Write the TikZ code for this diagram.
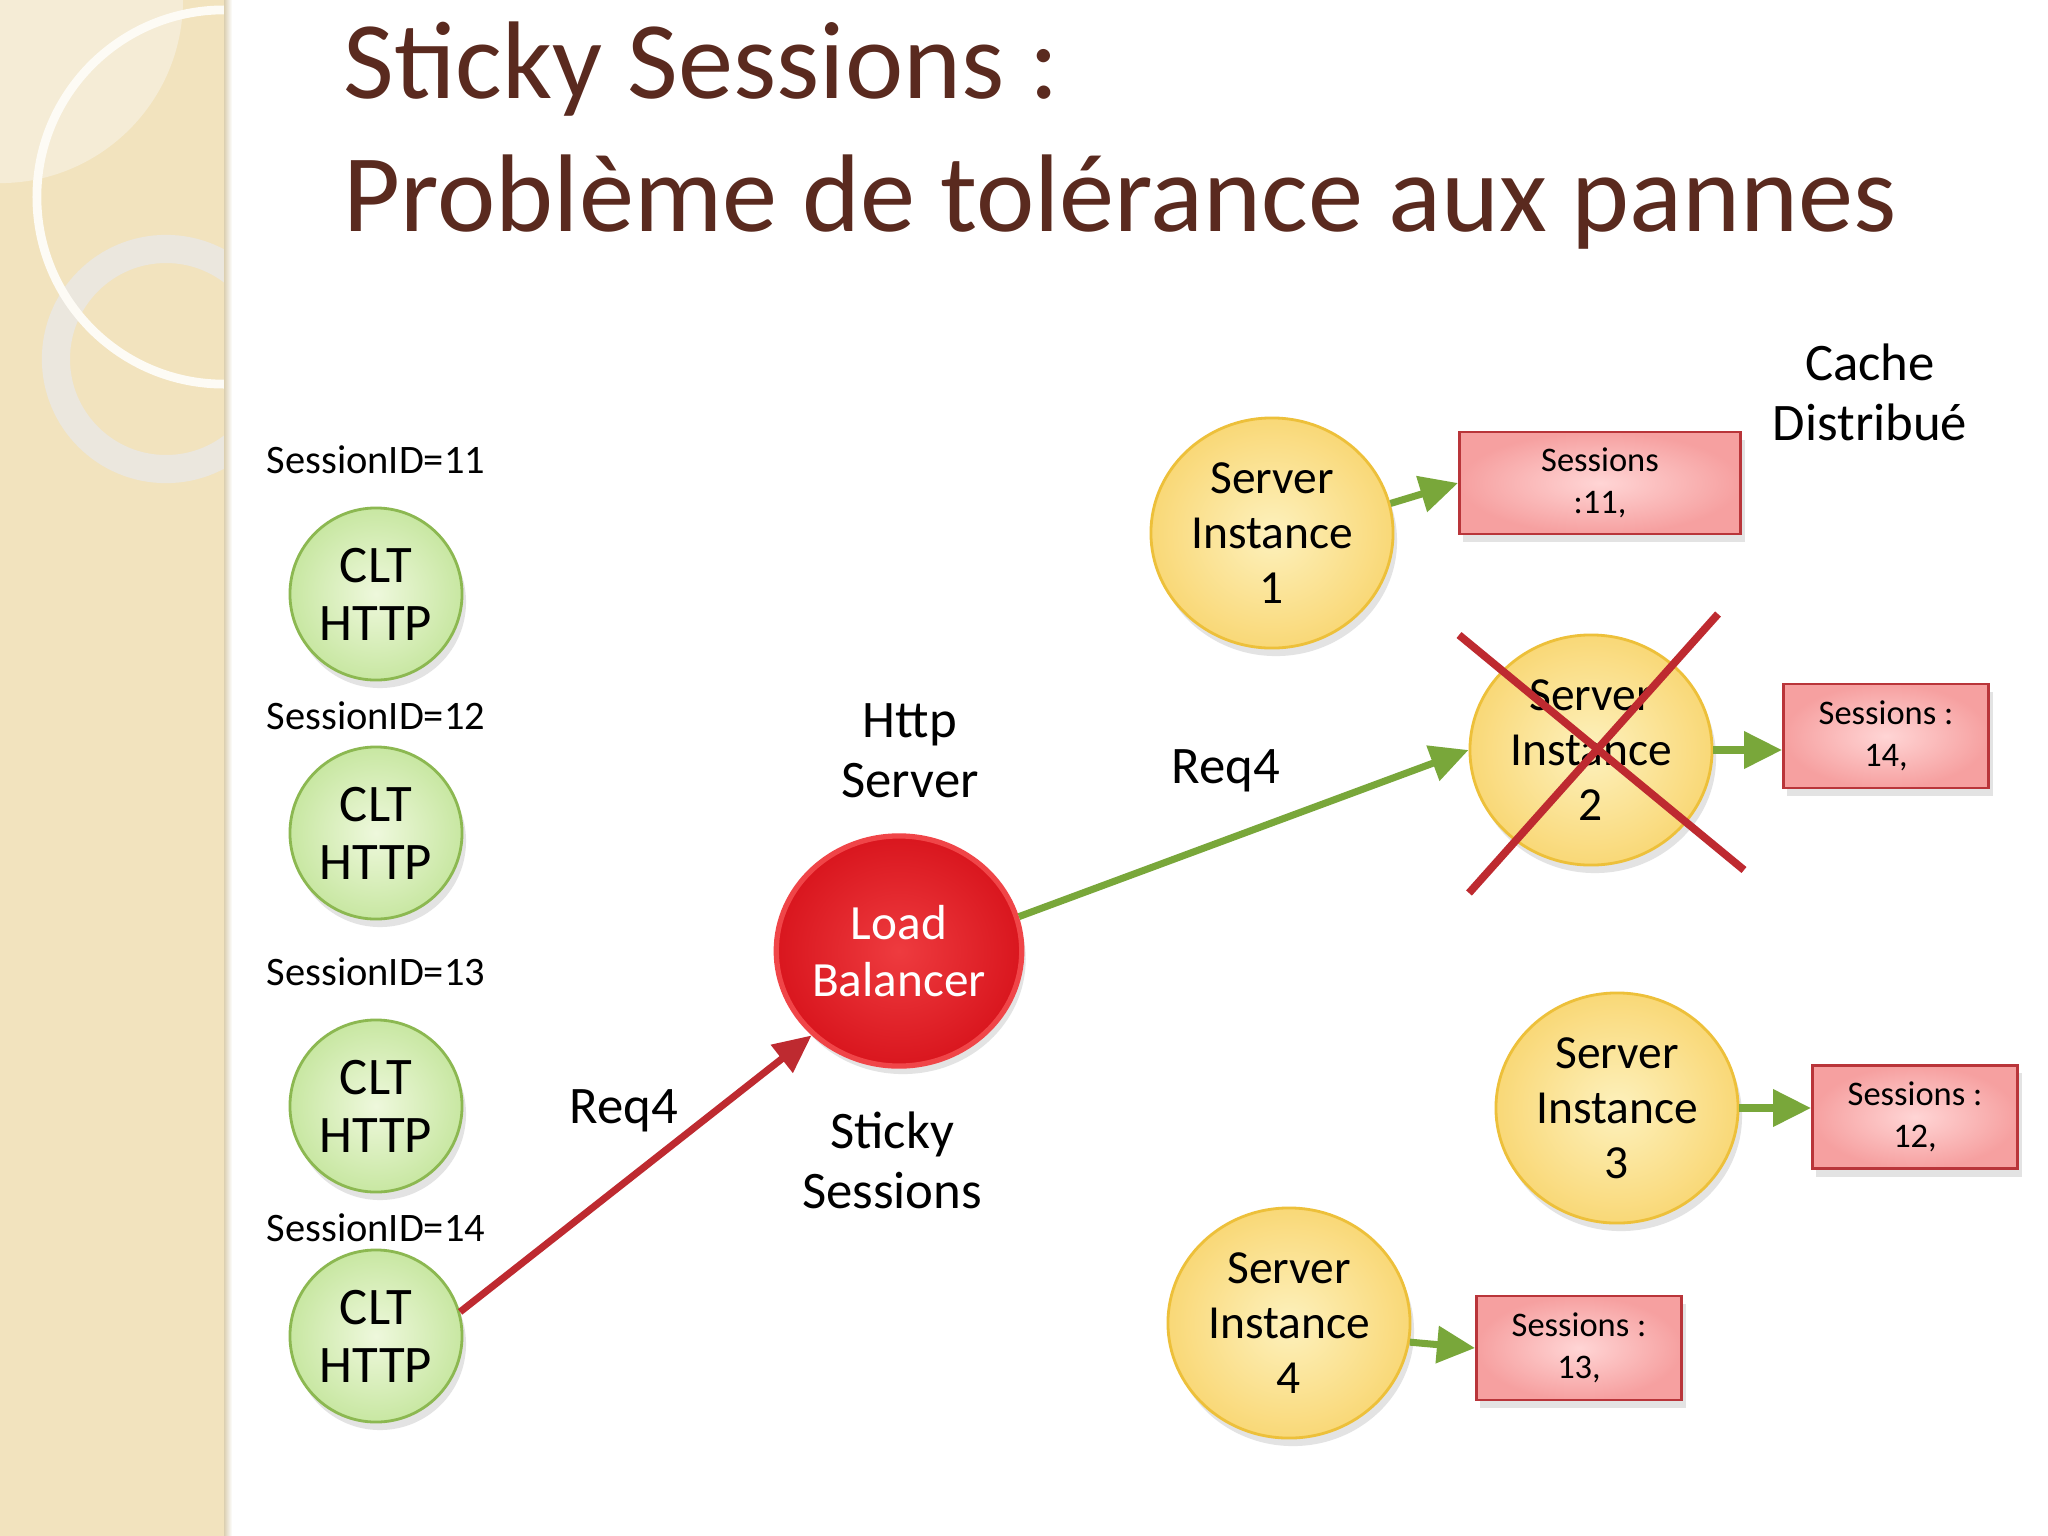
\documentclass[tikz,border=0pt]{standalone}
\usepackage{fontspec}
\setmainfont{Carlito}
\usetikzlibrary{arrows.meta,shapes.geometric,shadows}
\definecolor{stripc}{HTML}{F2E3BE}
\definecolor{stripl}{HTML}{F5ECD6}
\definecolor{ringc}{HTML}{EBE7DE}
\definecolor{titlec}{HTML}{5A2A1F}
\definecolor{arrred}{HTML}{BE2A30}
\definecolor{arrgreen}{HTML}{79A73A}
\definecolor{yin}{HTML}{FDF1BD}
\definecolor{yout}{HTML}{F9D877}
\definecolor{yborder}{HTML}{EDC03A}
\definecolor{gin}{HTML}{EEF8DC}
\definecolor{gout}{HTML}{C8E7A2}
\definecolor{gborder}{HTML}{8CB851}
\definecolor{rin}{HTML}{EE3B3F}
\definecolor{rout}{HTML}{D9161E}
\definecolor{rborder}{HTML}{F04548}
\definecolor{pin}{HTML}{FFD5D5}
\definecolor{pout}{HTML}{F6A0A0}
\definecolor{pborder}{HTML}{B9353A}
\tikzset{
  shd/.style={drop shadow={shadow xshift=0.4mm,shadow yshift=-0.8mm,opacity=0.22}},
  cltnode/.style={circle,minimum size=1.72cm,inner sep=0pt,shading=radial,inner color=gin,outer color=gout,draw=gborder,line width=0.8pt,shd,align=center,font=\fontsize{15}{16.5}\selectfont},
  srvnode/.style={ellipse,minimum width=2.42cm,minimum height=2.30cm,inner sep=0pt,shading=radial,inner color=yin,outer color=yout,draw=yborder,line width=0.8pt,shd,align=center,font=\fontsize{13.5}{15.6}\selectfont},
  lbnode/.style={ellipse,minimum width=2.40cm,minimum height=2.30cm,inner sep=0pt,shading=radial,inner color=rin,outer color=rout,draw=rborder,line width=1.5pt,shd,align=center,text=white,font=\fontsize{14}{16}\selectfont},
  sessbox/.style={rectangle,inner sep=0pt,shading=radial,inner color=pin,outer color=pout,draw=pborder,line width=0.8pt,shd,align=center,font=\fontsize{9.8}{12}\selectfont},
  lbl/.style={align=center,inner sep=0pt,font=\fontsize{11.5}{13}\selectfont},
  biglbl/.style={align=center,inner sep=0pt,font=\fontsize{15}{17}\selectfont},
  greenarr/.style={draw=arrgreen,line width=2pt,-{Triangle[length=3.8mm,width=3.6mm]}},
  redarr/.style={draw=arrred,line width=2pt,-{Triangle[length=3.8mm,width=3.4mm]}},
  crossline/.style={draw=arrred,line width=2.2pt},
  titletxt/.style={anchor=base west,inner sep=0pt,text=titlec,font=\fontsize{31.4}{36}\selectfont}
}
\begin{document}
\begin{tikzpicture}[x=0.01cm,y=-0.01cm]
\useasboundingbox (0,0) rectangle (2048,1536);
\fill[white] (0,0) rectangle (2048,1536);
% decorative strip
\begin{scope}
\clip (0,0) rectangle (226,1536);
\fill[stripc] (0,0) rectangle (226,1536);
\fill[stripl] (0,0) -- (183,0) arc[start angle=0,end angle=-90,radius=1.83cm] -- cycle;
\draw[line width=8pt,ringc] (166,359) circle[radius=1.10cm];
\draw[line width=2.5pt,white!85!stripc] (224,197) circle[radius=1.87cm];
\end{scope}
\shade[left color=stripc!80!gray,right color=white] (224,0) rectangle (232,1536);
% title
\node[titletxt] (t1) at (343,98) {Sticky Sessions :};
\node[titletxt] (t2) at (343,231) {Problème de tolérance aux pannes};
% clients
\node[lbl] (s11) at (376,460) {SessionID=11};
\node[lbl] (s12) at (376,716) {SessionID=12};
\node[lbl] (s13) at (376,972) {SessionID=13};
\node[lbl] (s14) at (376,1228) {SessionID=14};
\node[cltnode] (c1) at (376,594) {CLT\\HTTP};
\node[cltnode] (c2) at (376,833) {CLT\\HTTP};
\node[cltnode] (c3) at (376,1106) {CLT\\HTTP};
\node[cltnode] (c4) at (376,1336) {CLT\\HTTP};
% load balancer
\node[lbnode] (lb) at (899,951) {Load\\Balancer};
\node[biglbl] (http) at (910,751) {Http\\Server};
\node[biglbl] (sticky) at (892,1160) {Sticky\\Sessions};
\node[biglbl] (req4a) at (624,1111) {Req4};
\node[biglbl] (req4b) at (1226,771) {Req4};
\node[biglbl] (cache) at (1870,392) {Cache\\Distribué};
% servers
\node[srvnode] (si1) at (1272,533) {Server\\Instance\\1};
\node[srvnode] (si2) at (1591,750) {Server\\Instance\\2};
\node[srvnode] (si3) at (1617,1108) {Server\\Instance\\3};
\node[srvnode] (si4) at (1289,1323) {Server\\Instance\\4};
% session boxes
\node[sessbox,minimum width=2.81cm,minimum height=1.02cm] (b1) at (1600,483) {Sessions\\:11,};
\node[sessbox,minimum width=2.05cm,minimum height=1.04cm] (b2) at (1886,736) {Sessions :\\14,};
\node[sessbox,minimum width=2.05cm,minimum height=1.03cm] (b3) at (1915,1117) {Sessions :\\12,};
\node[sessbox,minimum width=2.05cm,minimum height=1.04cm] (b4) at (1579,1348) {Sessions :\\13,};
% connectors
\draw[redarr] (c4.16) -- (lb.224);
\draw[greenarr] (lb.16) -- (si2.180);
\draw[greenarr] (si1.14) -- (b1.west);
\draw[greenarr] (si2.east) -- (si2.east -| b2.west);
\draw[greenarr] (si3.east) -- (si3.east -| b3.west);
\draw[greenarr] (si4.-9) -- (b4.west);
% cross
\coordinate (x1a) at (1459,635);
\coordinate (x1b) at (1744,870);
\coordinate (x2a) at (1718,614);
\coordinate (x2b) at (1469,893);
\draw[crossline] (x1a) -- (x1b);
\draw[crossline] (x2a) -- (x2b);
\end{tikzpicture}
\end{document}
